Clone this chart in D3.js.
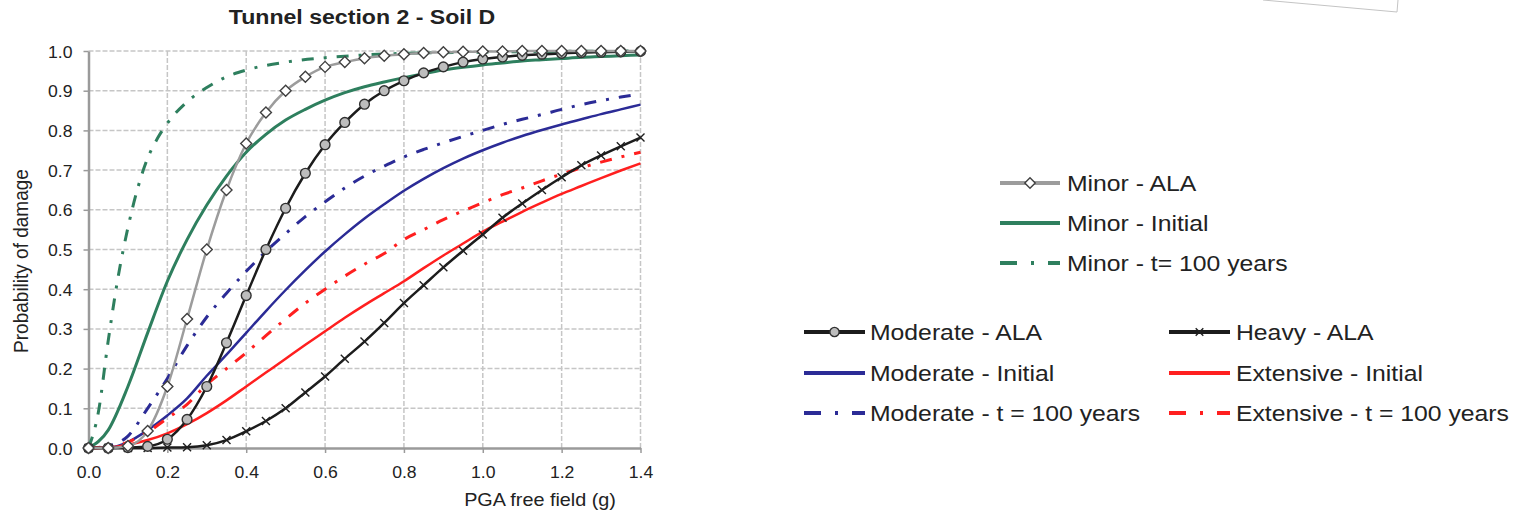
<!DOCTYPE html>
<html>
<head>
<meta charset="utf-8">
<script src="https://cdn.jsdelivr.net/npm/d3@7"></script>
<style>
  body { margin: 0; background: #fff; }
  text { font-family: "Liberation Sans", Arial, sans-serif; fill: #222; }
</style>
</head>
<body>
<script>
// values
const pga = [0, 0.05, 0.1, 0.15, 0.2, 0.25, 0.3, 0.35, 0.4, 0.45, 0.5, 0.55, 0.6, 0.65, 0.7,
             0.75, 0.8, 0.85, 0.9, 0.95, 1.0, 1.05, 1.1, 1.15, 1.2, 1.25, 1.3, 1.35, 1.4];
const pgaFine = [0, 0.025, 0.05, 0.075, 0.1, 0.125, 0.15, 0.175, 0.2, 0.25, 0.3, 0.35, 0.4, 0.5, 0.6, 0.7, 0.8, 1.0, 1.2, 1.4];

const minorAla = [0, 0, 0.005, 0.043, 0.155, 0.325, 0.5, 0.65, 0.767, 0.845, 0.9, 0.935, 0.96, 0.972, 0.982,
                  0.988, 0.992, 0.995, 0.997, 0.998, 0.999, 0.999, 1, 1, 1, 1, 1, 1, 1];
const minorInitial = [0, 0.045, 0.155, 0.29, 0.42, 0.525, 0.612, 0.685, 0.745, 0.79, 0.826, 0.853, 0.876, 0.895, 0.91,
                      0.922, 0.933, 0.943, 0.952, 0.959, 0.965, 0.97, 0.975, 0.978, 0.981, 0.984, 0.986, 0.988, 0.99];
const minorT100 = [0, 0.09, 0.27, 0.43, 0.555, 0.655, 0.73, 0.78, 0.818, 0.872, 0.908, 0.935, 0.952, 0.972, 0.983, 0.99,
                   0.994, 0.997, 0.999, 1.0];
const moderateAla = [0, 0, 0.001, 0.004, 0.022, 0.072, 0.155, 0.265, 0.384, 0.5, 0.604, 0.692, 0.764, 0.82, 0.866,
                     0.9, 0.925, 0.945, 0.96, 0.972, 0.98, 0.985, 0.989, 0.992, 0.994, 0.996, 0.997, 0.998, 0.999];
const moderateInitial = [0, 0.001, 0.015, 0.045, 0.082, 0.125, 0.182, 0.235, 0.29, 0.345, 0.398, 0.448, 0.495, 0.538, 0.578,
                         0.614, 0.648, 0.678, 0.705, 0.729, 0.75, 0.769, 0.786, 0.801, 0.815, 0.828, 0.841, 0.853, 0.865];
const moderateT100 = [0, 0.005, 0.03, 0.1, 0.175, 0.258, 0.33, 0.39, 0.445, 0.495, 0.54, 0.583, 0.62, 0.655, 0.685,
                      0.71, 0.733, 0.752, 0.769, 0.785, 0.8, 0.815, 0.828, 0.84, 0.853, 0.865, 0.875, 0.884, 0.892];
const heavyAla = [0, 0, 0, 0, 0.001, 0.002, 0.007, 0.02, 0.042, 0.068, 0.1, 0.14, 0.18, 0.225, 0.268,
                  0.315, 0.365, 0.41, 0.455, 0.497, 0.538, 0.58, 0.616, 0.65, 0.682, 0.712, 0.737, 0.76, 0.782];
const extensiveInitial = [0, 0.001, 0.008, 0.02, 0.037, 0.06, 0.088, 0.12, 0.155, 0.19, 0.225, 0.26, 0.294, 0.328, 0.36,
                          0.39, 0.42, 0.453, 0.485, 0.515, 0.545, 0.57, 0.595, 0.618, 0.64, 0.66, 0.68, 0.699, 0.717];
const extensiveT100 = [0, 0.002, 0.015, 0.04, 0.075, 0.11, 0.16, 0.2, 0.24, 0.283, 0.325, 0.365, 0.4, 0.433, 0.463,
                       0.49, 0.525, 0.55, 0.575, 0.597, 0.618, 0.638, 0.655, 0.673, 0.69, 0.706, 0.72, 0.733, 0.745];

const xTicks = [0, 0.2, 0.4, 0.6, 0.8, 1.0, 1.2, 1.4];
const yTicks = [0, 0.1, 0.2, 0.3, 0.4, 0.5, 0.6, 0.7, 0.8, 0.9, 1.0];

// the scanned figure is a bit wider than tall, so text gets a horizontal stretch
const SX = 1.1;
const GREEN = "#2e7f5e", BLUE = "#2b2b96", RED = "#ff1f1f", BLACK = "#1c1c1c", GREY = "#9c9c9c";
const DASHDOT = "12,10,3,10";

const series = [
  { name: "Minor - t= 100 years", xs: pgaFine, ys: minorT100, color: GREEN, width: 3, dash: DASHDOT },
  { name: "Minor - Initial", xs: pga, ys: minorInitial, color: GREEN, width: 3 },
  { name: "Moderate - Initial", xs: pga, ys: moderateInitial, color: BLUE, width: 2.5 },
  { name: "Moderate - t = 100 years", xs: pga, ys: moderateT100, color: BLUE, width: 3, dash: DASHDOT },
  { name: "Extensive - Initial", xs: pga, ys: extensiveInitial, color: RED, width: 2.5 },
  { name: "Extensive - t = 100 years", xs: pga, ys: extensiveT100, color: RED, width: 3, dash: DASHDOT },
  { name: "Heavy - ALA", xs: pga, ys: heavyAla, color: BLACK, width: 2.5, marker: "cross" },
  { name: "Moderate - ALA", xs: pga, ys: moderateAla, color: BLACK, width: 2.5, marker: "circle" },
  { name: "Minor - ALA", xs: pga, ys: minorAla, color: GREY, width: 2.5, marker: "diamond" }
];

const W = 1518, H = 513;
const svg = d3.select("body").append("svg").attr("width", W).attr("height", H);
svg.append("rect").attr("width", W).attr("height", H).attr("fill", "#fff");

const x = d3.scaleLinear().domain([0, 1.4]).range([88.5, 640.5]);
const y = d3.scaleLinear().domain([0, 1]).range([448, 51]);

// grid
svg.append("g").selectAll("line").data(yTicks.slice(1)).join("line")
  .attr("x1", x(0)).attr("x2", x(1.4)).attr("y1", d => y(d)).attr("y2", d => y(d))
  .attr("stroke", "#c6c6c6").attr("stroke-width", 1.5).attr("stroke-dasharray", "5,2");
svg.append("g").selectAll("line").data(xTicks.slice(1)).join("line")
  .attr("x1", d => x(d)).attr("x2", d => x(d)).attr("y1", y(0)).attr("y2", y(1))
  .attr("stroke", "#c6c6c6").attr("stroke-width", 1.5).attr("stroke-dasharray", "5,2");

// axes
const fmt = d3.format(".1f");
const gx = svg.append("g").attr("transform", `translate(0,${y(0)})`)
  .call(d3.axisBottom(x).tickValues(xTicks).tickFormat(fmt).tickSize(5).tickSizeOuter(0));
const gy = svg.append("g").attr("transform", `translate(${x(0)},0)`)
  .call(d3.axisLeft(y).tickValues(yTicks).tickFormat(fmt).tickSize(5).tickSizeOuter(0));
[gx, gy].forEach(g => {
  g.select(".domain").attr("stroke", "#9a9a9a").attr("stroke-width", 2.5);
  g.selectAll(".tick line").attr("stroke", "#9a9a9a").attr("stroke-width", 1.5);
  g.selectAll(".tick text").attr("font-size", 16).attr("fill", "#222")
    .attr("font-family", "Liberation Sans, Arial, sans-serif");
});
gx.selectAll(".tick text").attr("x", 0).attr("y", 0).attr("dy", 0)
  .attr("transform", `translate(0,30) scale(${SX},1)`);
gy.selectAll(".tick text").attr("x", 0).attr("dy", 0)
  .attr("transform", `translate(-16,6) scale(${SX},1)`);

// curves
const line = d3.line().curve(d3.curveMonotoneX);
const marks = svg.append("g");
series.forEach(s => {
  const pts = s.xs.map((v, i) => [x(v), y(s.ys[i])]);
  marks.append("path").attr("d", line(pts)).attr("fill", "none")
    .attr("stroke", s.color).attr("stroke-width", s.width)
    .attr("stroke-dasharray", s.dash || null);
  if (s.marker) drawMarkers(marks, pts, s.marker, 1);
});

function drawMarkers(g, pts, kind, k) {
  const sel = g.append("g").selectAll("path").data(pts).join("path")
    .attr("transform", d => `translate(${d[0]},${d[1]})`);
  if (kind === "diamond") {
    const r = 5.5 * k;
    sel.attr("d", `M0,${-r}L${r},0L0,${r}L${-r},0Z`)
      .attr("fill", "#fff").attr("stroke", "#404040").attr("stroke-width", 1.4);
  } else if (kind === "circle") {
    sel.attr("d", d3.symbol(d3.symbolCircle, 75 * k * k)())
      .attr("fill", "#bdbdbd").attr("stroke", "#303030").attr("stroke-width", 1.4);
  } else {
    const r = 4 * k;
    sel.attr("d", `M${-r},${-r}L${r},${r}M${-r},${r}L${r},${-r}`)
      .attr("fill", "none").attr("stroke", "#202020").attr("stroke-width", 1.4);
  }
}

// title and axis titles
function label(txt, tx, ty, size, extra) {
  return svg.append("text").text(txt).attr("font-size", size)
    .attr("transform", `translate(${tx},${ty}) scale(${SX},1)` + (extra || ""));
}
label("Tunnel section 2 - Soil D", 362, 24, 21).attr("text-anchor", "middle").attr("font-weight", "bold");
label("PGA free field (g)", 540, 506, 18).attr("text-anchor", "middle");
label("Probability of damage", 28, 261, 19, " rotate(-90)").attr("text-anchor", "middle");

// legend
const legendItems = [
  { s: "Minor - ALA", x0: 1000, x1: 1060, tx: 1067, ty: 183 },
  { s: "Minor - Initial", x0: 1000, x1: 1060, tx: 1067, ty: 223 },
  { s: "Minor - t= 100 years", x0: 1000, x1: 1060, tx: 1067, ty: 263 },
  { s: "Moderate - ALA", x0: 804, x1: 865, tx: 870, ty: 332 },
  { s: "Moderate - Initial", x0: 804, x1: 865, tx: 870, ty: 373 },
  { s: "Moderate - t = 100 years", x0: 804, x1: 865, tx: 870, ty: 413 },
  { s: "Heavy - ALA", x0: 1169, x1: 1230, tx: 1236, ty: 332 },
  { s: "Extensive - Initial", x0: 1169, x1: 1230, tx: 1236, ty: 373 },
  { s: "Extensive - t = 100 years", x0: 1169, x1: 1230, tx: 1236, ty: 413 }
];
const leg = svg.append("g");
legendItems.forEach(it => {
  const s = series.find(d => d.name === it.s);
  leg.append("line").attr("x1", it.x0).attr("x2", it.x1).attr("y1", it.ty).attr("y2", it.ty)
    .attr("stroke", s.color).attr("stroke-width", 4)
    .attr("stroke-dasharray", s.dash ? "17,14,3,14" : null);
  if (s.marker) drawMarkers(leg, [[(it.x0 + it.x1) / 2, it.ty]], s.marker, 0.95);
  label(it.s, it.tx, it.ty + 8, 22.5);
});

// edge of the scanned page in the top right corner
svg.append("path").attr("d", "M1263,0L1397,12L1398,0").attr("fill", "none")
  .attr("stroke", "#c4c4c4").attr("stroke-width", 1);
</script>
</body>
</html>
